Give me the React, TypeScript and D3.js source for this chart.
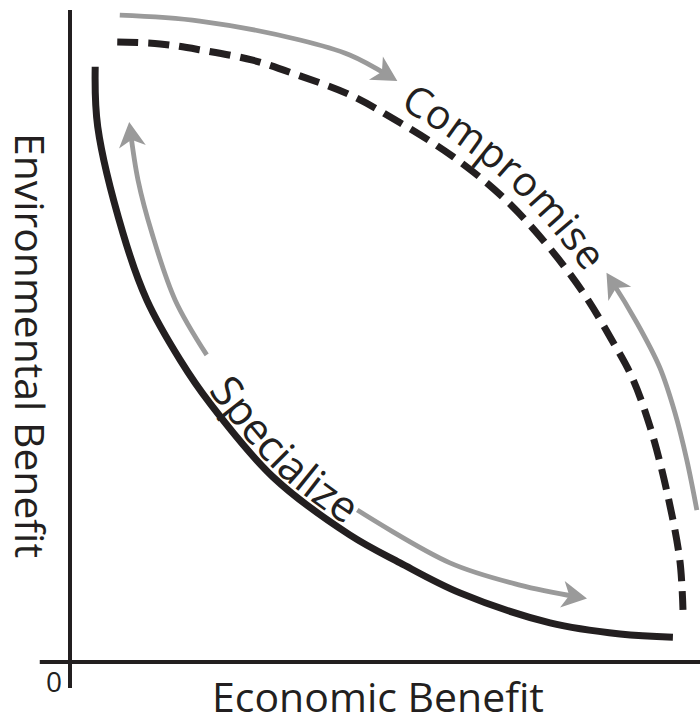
import React, { useLayoutEffect, useRef, useState } from 'react';
import * as d3 from 'd3';

const W = 700;
const H = 720;

// Data units: both axes 0..100 (benefit, arbitrary units)
const specializeCurve: [number, number][] = [
  [4.0, 91.3], [4.4, 82.1], [8.4, 65.8], [12.2, 55.5], [17.5, 46.3], [22.2, 39.7],
  [32.2, 28.4], [44.4, 19.5], [52.4, 15.2], [61.9, 10.6], [76.2, 6.0], [87.3, 4.3], [95.7, 3.8],
];
const compromiseCurve: [number, number][] = [
  [7.5, 95.1], [14.3, 94.8], [20.6, 93.9], [29.0, 92.3], [36.5, 89.9], [44.4, 87.0],
  [52.4, 82.7], [60.8, 77.5], [68.7, 71.3], [75.7, 64.0], [81.7, 56.3], [86.0, 49.4],
  [89.2, 43.7], [92.1, 36.0], [94.8, 25.9], [96.8, 15.6], [97.3, 8.0],
];
const arrowTop: [number, number][] = [[7.9, 99.2], [20.6, 98.3], [36.5, 95.4], [44.4, 93.1], [50.6, 89.9]];
const arrowRight: [number, number][] = [[99.5, 23.3], [97.9, 31.0], [96.0, 38.3], [93.6, 45.2], [90.0, 52.0], [86.0, 58.4]];
const arrowLeft: [number, number][] = [[21.7, 47.1], [16.7, 55.5], [13.0, 65.8], [10.8, 73.9], [9.6, 81.3]];
const arrowBottom: [number, number][] = [[45.6, 23.3], [60.3, 15.2], [71.4, 11.8], [80.5, 10.0]];

const labelSpecialize = 'Specialize';
const labelCompromise = 'Compromise';
const anchorSpecialize: [number, number] = [31.4, 29.8];
const anchorCompromise: [number, number] = [68.4, 73.9];
const xTitle = 'Economic Benefit';
const yTitle = 'Environmental Benefit';
const originLabel = '0';
const xAxisExtent = [-4.8, 100];
const yAxisExtent = [-4, 100];

const xScale = d3.scaleLinear().domain([0, 100]).range([70, 700]);
const yScale = d3.scaleLinear().domain([0, 100]).range([662, 10]);
const lineCR = d3
  .line<[number, number]>()
  .x((d) => xScale(d[0]))
  .y((d) => yScale(d[1]))
  .curve(d3.curveCatmullRom.alpha(0.5));

const INK = '#231f20';
const GRAY = '#9a9a9a';
const FONT = '"Open Sans", "Noto Sans", sans-serif';

function nearestLength(path: SVGPathElement, px: number, py: number) {
  const L = path.getTotalLength();
  let best = 0;
  let bd = Infinity;
  for (let s = 0; s <= L; s += 0.5) {
    const p = path.getPointAtLength(s);
    const d = (p.x - px) ** 2 + (p.y - py) ** 2;
    if (d < bd) {
      bd = d;
      best = s;
    }
  }
  return best;
}

export default function App() {
  const solidRef = useRef<SVGPathElement>(null);
  const dashRef = useRef<SVGPathElement>(null);
  const [offs, setOffs] = useState<[number, number] | null>(null);

  useLayoutEffect(() => {
    if (solidRef.current && dashRef.current) {
      const a = nearestLength(solidRef.current, xScale(anchorSpecialize[0]), yScale(anchorSpecialize[1]));
      const b = nearestLength(dashRef.current, xScale(anchorCompromise[0]), yScale(anchorCompromise[1]));
      setOffs([a, b]);
    }
  }, []);

  const arrows = [arrowTop, arrowRight, arrowLeft, arrowBottom];

  return (
    <svg
      width={W}
      height={H}
      viewBox={`0 0 ${W} ${H}`}
      style={{ position: 'absolute', left: 0, top: 0, background: '#fff' }}
    >
      <defs>
        <marker
          id="ah"
          markerUnits="userSpaceOnUse"
          markerWidth={60}
          markerHeight={60}
          viewBox="-30 -30 60 60"
          refX={0}
          refY={0}
          orient="auto"
        >
          <path d="M10,0 L-15,-13.5 L-8,0 L-15,13.5 Z" fill={GRAY} />
        </marker>
      </defs>
      {/* axes */}
      <line
        x1={xScale(xAxisExtent[0])}
        x2={xScale(xAxisExtent[1])}
        y1={yScale(0)}
        y2={yScale(0)}
        stroke={INK}
        strokeWidth={4}
      />
      <line
        x1={xScale(0)}
        x2={xScale(0)}
        y1={yScale(yAxisExtent[0])}
        y2={yScale(yAxisExtent[1])}
        stroke={INK}
        strokeWidth={4}
      />
      {/* frontiers */}
      <path
        id="solidPath"
        ref={solidRef}
        d={lineCR(specializeCurve) || ''}
        fill="none"
        stroke={INK}
        strokeWidth={7}
      />
      <path
        id="dashPath"
        ref={dashRef}
        d={lineCR(compromiseCurve) || ''}
        fill="none"
        stroke={INK}
        strokeWidth={7}
        strokeDasharray="21 10"
      />
      {/* gray arrows */}
      {arrows.map((a, i) => (
        <path
          key={i}
          d={lineCR(a) || ''}
          fill="none"
          stroke={GRAY}
          strokeWidth={4.8}
          markerEnd="url(#ah)"
        />
      ))}
      {/* curve labels */}
      {offs && (
        <g fontFamily={FONT} fill={INK}>
          <text fontSize={43}>
            <textPath href="#solidPath" startOffset={offs[0]} textAnchor="middle">
              <tspan dy={-6}>{labelSpecialize}</tspan>
            </textPath>
          </text>
          <text fontSize={41}>
            <textPath href="#dashPath" startOffset={offs[1]} textAnchor="middle">
              <tspan dy={-13}>{labelCompromise}</tspan>
            </textPath>
          </text>
        </g>
      )}
      {/* axis titles */}
      <text
        x={212}
        y={712}
        fontFamily={FONT}
        fontSize={41}
        fill={INK}
        textLength={332}
        lengthAdjust="spacingAndGlyphs"
      >
        {xTitle}
      </text>
      <text
        transform="translate(15,133) rotate(90)"
        fontFamily={FONT}
        fontSize={41}
        fill={INK}
        textLength={425}
        lengthAdjust="spacingAndGlyphs"
      >
        {yTitle}
      </text>
      <text x={54} y={692} fontFamily={FONT} fontSize={28} fill={INK} textAnchor="middle">
        {originLabel}
      </text>
    </svg>
  );
}
